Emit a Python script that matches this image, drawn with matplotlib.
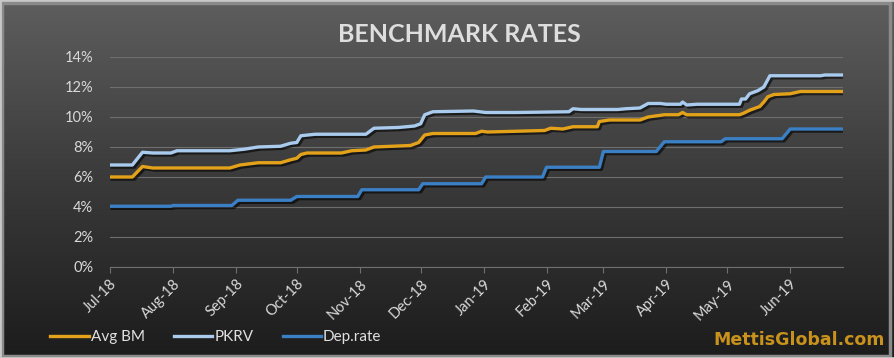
import numpy as np
import pandas as pd
import matplotlib
matplotlib.use("Agg")
import matplotlib.pyplot as plt
import matplotlib.dates as mdates
import matplotlib.patheffects as pe
from matplotlib.ticker import FuncFormatter, MultipleLocator
from matplotlib.patches import Rectangle

plt.rcParams["font.family"] = ["Lato", "DejaVu Sans"]

# --- data (% p.a.) ---
pkrv_dates = ["2018-07-01", "2018-07-12", "2018-07-17", "2018-07-22", "2018-07-31", "2018-08-03",
              "2018-08-29", "2018-09-05", "2018-09-12", "2018-09-23", "2018-09-28", "2018-10-01",
              "2018-10-03", "2018-10-10", "2018-11-04", "2018-11-08", "2018-11-20", "2018-11-28",
              "2018-12-01", "2018-12-03", "2018-12-07", "2018-12-27", "2019-01-02", "2019-01-17",
              "2019-02-12", "2019-02-14", "2019-02-18", "2019-03-08", "2019-03-12", "2019-03-19",
              "2019-03-23", "2019-03-29", "2019-04-01", "2019-04-08", "2019-04-09", "2019-04-11",
              "2019-04-16", "2019-05-07", "2019-05-08", "2019-05-10", "2019-05-12", "2019-05-16",
              "2019-05-19", "2019-05-22", "2019-06-16", "2019-06-18", "2019-06-27"]
pkrv_vals = [6.8, 6.8, 7.65, 7.6, 7.6, 7.75,
             7.75, 7.85, 8.0, 8.05, 8.25, 8.3,
             8.75, 8.85, 8.85, 9.25, 9.3, 9.4,
             9.55, 10.15, 10.35, 10.4, 10.3, 10.3,
             10.35, 10.55, 10.5, 10.5, 10.55, 10.6,
             10.9, 10.9, 10.85, 10.85, 11.0, 10.8,
             10.85, 10.85, 11.2, 11.2, 11.55, 11.75,
             12.0, 12.75, 12.75, 12.8, 12.8]

bm_dates = ["2018-07-01", "2018-07-12", "2018-07-17", "2018-07-22", "2018-08-29", "2018-09-03",
            "2018-09-12", "2018-09-23", "2018-09-28", "2018-10-01", "2018-10-03", "2018-10-06",
            "2018-10-23", "2018-10-28", "2018-11-04", "2018-11-08", "2018-11-26", "2018-11-30",
            "2018-12-03", "2018-12-07", "2018-12-28", "2018-12-31", "2019-01-03", "2019-01-31",
            "2019-02-03", "2019-02-09", "2019-02-14", "2019-02-26", "2019-02-27", "2019-03-04",
            "2019-03-19", "2019-03-23", "2019-03-31", "2019-04-07", "2019-04-09", "2019-04-11",
            "2019-05-07", "2019-05-09", "2019-05-12", "2019-05-17", "2019-05-19", "2019-05-21",
            "2019-05-24", "2019-06-01", "2019-06-06", "2019-06-27"]
bm_vals = [6.0, 6.0, 6.7, 6.6, 6.6, 6.8,
           6.95, 6.95, 7.15, 7.25, 7.5, 7.6,
           7.6, 7.75, 7.8, 8.0, 8.1, 8.3,
           8.8, 8.9, 8.9, 9.05, 9.0, 9.1,
           9.25, 9.2, 9.35, 9.35, 9.7, 9.8,
           9.8, 10.0, 10.15, 10.15, 10.3, 10.15,
           10.15, 10.25, 10.45, 10.7, 11.0, 11.35,
           11.5, 11.55, 11.7, 11.7]

dep_dates = ["2018-07-01", "2018-07-31", "2018-08-01", "2018-08-30", "2018-09-02", "2018-09-28",
             "2018-10-01", "2018-10-31", "2018-11-02", "2018-11-30", "2018-12-02", "2018-12-31",
             "2019-01-02", "2019-01-30", "2019-02-01", "2019-02-27", "2019-03-01", "2019-03-27",
             "2019-03-31", "2019-04-28", "2019-04-30", "2019-05-28", "2019-06-01", "2019-06-27"]
dep_vals = [4.05, 4.05, 4.1, 4.1, 4.45, 4.45,
            4.7, 4.7, 5.15, 5.15, 5.55, 5.55,
            6.0, 6.0, 6.65, 6.65, 7.7, 7.7,
            8.35, 8.35, 8.55, 8.55, 9.2, 9.2]

series = [("Avg BM", bm_dates, bm_vals, "#E3A21A"),
          ("PKRV", pkrv_dates, pkrv_vals, "#A9CBEE"),
          ("Dep.rate", dep_dates, dep_vals, "#3B7FC4")]

fig = plt.figure(figsize=(8.95, 3.58), dpi=100)

# background gradient + frame
bg = fig.add_axes([0, 0, 1, 1], zorder=0)
grad = np.linspace(0, 1, 256)[:, None]
cmap = matplotlib.colors.LinearSegmentedColormap.from_list("bg", ["#1c1c1c", "#3a3a3a", "#5e5e5e"])
bg.imshow(grad, aspect="auto", cmap=cmap, origin="lower", extent=[0, 1, 0, 1])
bg.add_patch(Rectangle((0.002, 0.006), 0.992, 0.985, fill=False, edgecolor="#8a8a8a", lw=2.5))
bg.add_patch(Rectangle((0, 0), 1, 1, fill=False, edgecolor="#c8c8c8", lw=2))
bg.set_xlim(0, 1); bg.set_ylim(0, 1)
bg.axis("off")

ax = fig.add_axes([110 / 895, 1 - 267 / 358, (843 - 110) / 895, (267 - 57) / 358], zorder=1)
ax.patch.set_alpha(0)

shadow = [pe.SimpleLineShadow(offset=(1.5, -1.5), shadow_color="black", alpha=0.6), pe.Normal()]
for name, d, v, c in series:
    ax.plot(pd.to_datetime(d), v, color=c, lw=2.4, label=name, path_effects=shadow,
            solid_joinstyle="round", zorder=3)

ax.set_xlim(pd.Timestamp("2018-07-01"), pd.Timestamp("2019-06-27"))
ax.set_ylim(0, 14)
ax.yaxis.set_major_locator(MultipleLocator(2))
ax.yaxis.set_major_formatter(FuncFormatter(lambda v, p: f"{v:.0f}%"))
ax.xaxis.set_major_locator(mdates.MonthLocator())
ax.xaxis.set_major_formatter(mdates.DateFormatter("%b-%y"))
ax.grid(axis="y", color="#6e6e6e", lw=0.8)
ax.set_axisbelow(True)
for s in ["top", "right", "left"]:
    ax.spines[s].set_visible(False)
ax.spines["bottom"].set_color("#707070")
ax.tick_params(axis="y", length=0, colors="#d9d9d9", labelsize=10.5, pad=12)
ax.tick_params(axis="x", length=4, color="#707070", colors="#d9d9d9", labelsize=10.5, pad=3)
for lab in ax.get_xticklabels():
    lab.set_rotation(45)
    lab.set_ha("right")
    lab.set_va("top")
    lab.set_rotation_mode("anchor")

fig.text(0.513, 0.905, "BENCHMARK RATES", ha="center", va="center", fontsize=18,
         fontweight="bold", color="#dedede")

leg = fig.legend(loc="lower left", bbox_to_anchor=(0.041, 0.0), ncol=3, frameon=False,
                 fontsize=11, labelcolor="#e0e0e0", handlelength=2.5, handletextpad=0.15,
                 columnspacing=1.9)
for h in leg.legend_handles:
    h.set_path_effects([])

fig.text(0.988, 0.05, "MettisGlobal.com", ha="right", va="center", fontsize=12.5,
         fontweight="bold", color="#C8921C", family="DejaVu Sans")

fig.savefig("out.png", dpi=100)
